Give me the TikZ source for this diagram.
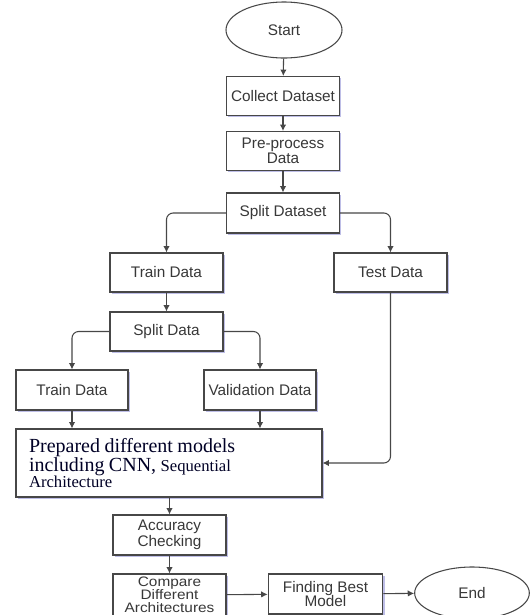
\documentclass[tikz,border=0pt]{standalone}
\usepackage{fontspec}
\setmainfont{Liberation Serif}
\setsansfont{Liberation Sans}
\usepackage{xcolor}
\colorlet{colLine}{black!72}
\colorlet{colShadow}{blue!45!gray}
\colorlet{colText}{black!78}
\usepackage{tikz}
\usetikzlibrary{arrows.meta, shapes.geometric, shadows}

\tikzset{
  proc/.style={draw=colLine, line width=0.8pt, fill=white, rectangle,
    minimum width=84.75pt, minimum height=29.25pt, inner sep=1pt, align=center,
    font=\sffamily\fontsize{11.5}{11}\selectfont, text=colText,
    drop shadow={shadow xshift=1.4pt, shadow yshift=-1.4pt, fill=colShadow, opacity=0.35}},
  term/.style={draw=colLine, line width=0.8pt, fill=white, ellipse,
    minimum width=87pt, minimum height=42pt, inner sep=0pt,
    font=\sffamily\fontsize{11.5}{13}\selectfont, text=colText},
  arr/.style={draw=colLine, line width=0.8pt, -{Latex[length=4.8pt,width=4.8pt]}},
}

\begin{document}
\begin{tikzpicture}[x=0.75pt, y=-0.75pt]
  \useasboundingbox (0,0) rectangle (532,615);
  % main column
  \node[term] (start) at (284,30) {Start};
  \node[proc] (collect) at (283,96) {Collect Dataset};
  \node[proc] (prep) at (283,151) {Pre-process\\Data};
  \node[proc, minimum height=30pt] (splitds) at (283,213) {Split Dataset};
  % first split
  \node[proc] (trainA) at (166.5,272.5) {Train Data};
  \node[proc] (test) at (390.5,272.5) {Test Data};
  \node[proc] (splitd) at (166.5,331.5) {Split Data};
  % second split
  \node[proc, minimum width=84pt, minimum height=30pt] (trainB) at (72,390) {Train Data};
  \node[proc, minimum width=84pt, minimum height=30pt] (valid) at (260,390) {Validation Data};
  % models
  \node[proc, minimum width=229.5pt, minimum height=51pt, text width=210pt,
        align=left, font=\rmfamily, text=black!85!blue] (models) at (169,463)
    {\fontsize{15}{13.5}\selectfont Prepared different models\\
     including CNN, {\fontsize{12.5}{13.5}\selectfont Sequential}\\
     \fontsize{12.5}{13.5}\selectfont Architecture};
  % evaluation
  \node[proc, minimum height=30pt, font=\sffamily\fontsize{11.5}{10}\selectfont]
    (acc) at (169.5,535) {Accuracy\\Checking};
  \node[proc, minimum height=31.5pt,
        font=\sffamily\addfontfeature{FakeStretch=1.12}\fontsize{10.3}{9.9}\selectfont]
    (cmp) at (169.5,595) {Compare\\Different\\Architectures};
  \node[proc, minimum width=86pt, minimum height=30pt] (best) at (325.5,594) {Finding Best\\Model};
  \node[term, minimum width=86pt, minimum height=39pt] (end) at (472,593) {End};

  \draw[arr] (start) -- (collect);
  \draw[arr] (collect) -- (prep);
  \draw[arr] (prep) -- (splitds);
  \draw[arr, rounded corners=5pt] (splitds.west) -| (trainA.north);
  \draw[arr, rounded corners=5pt] (splitds.east) -| (test.north);
  \draw[arr] (trainA) -- (splitd);
  \draw[arr, rounded corners=5pt] (splitd.west) -| (trainB.north);
  \draw[arr, rounded corners=5pt] (splitd.east) -| (valid.north);
  \draw[arr] (trainB.south) -- (trainB.south |- models.north);
  \draw[arr] (valid.south) -- (valid.south |- models.north);
  \draw[arr, rounded corners=5pt] (test.south) |- (models.east);
  \draw[arr] (models.south -| acc.north) -- (acc.north);
  \draw[arr] (acc) -- (cmp);
  \draw[arr] (cmp) -- (best);
  \draw[arr] (best) -- (end);
\end{tikzpicture}
\end{document}
